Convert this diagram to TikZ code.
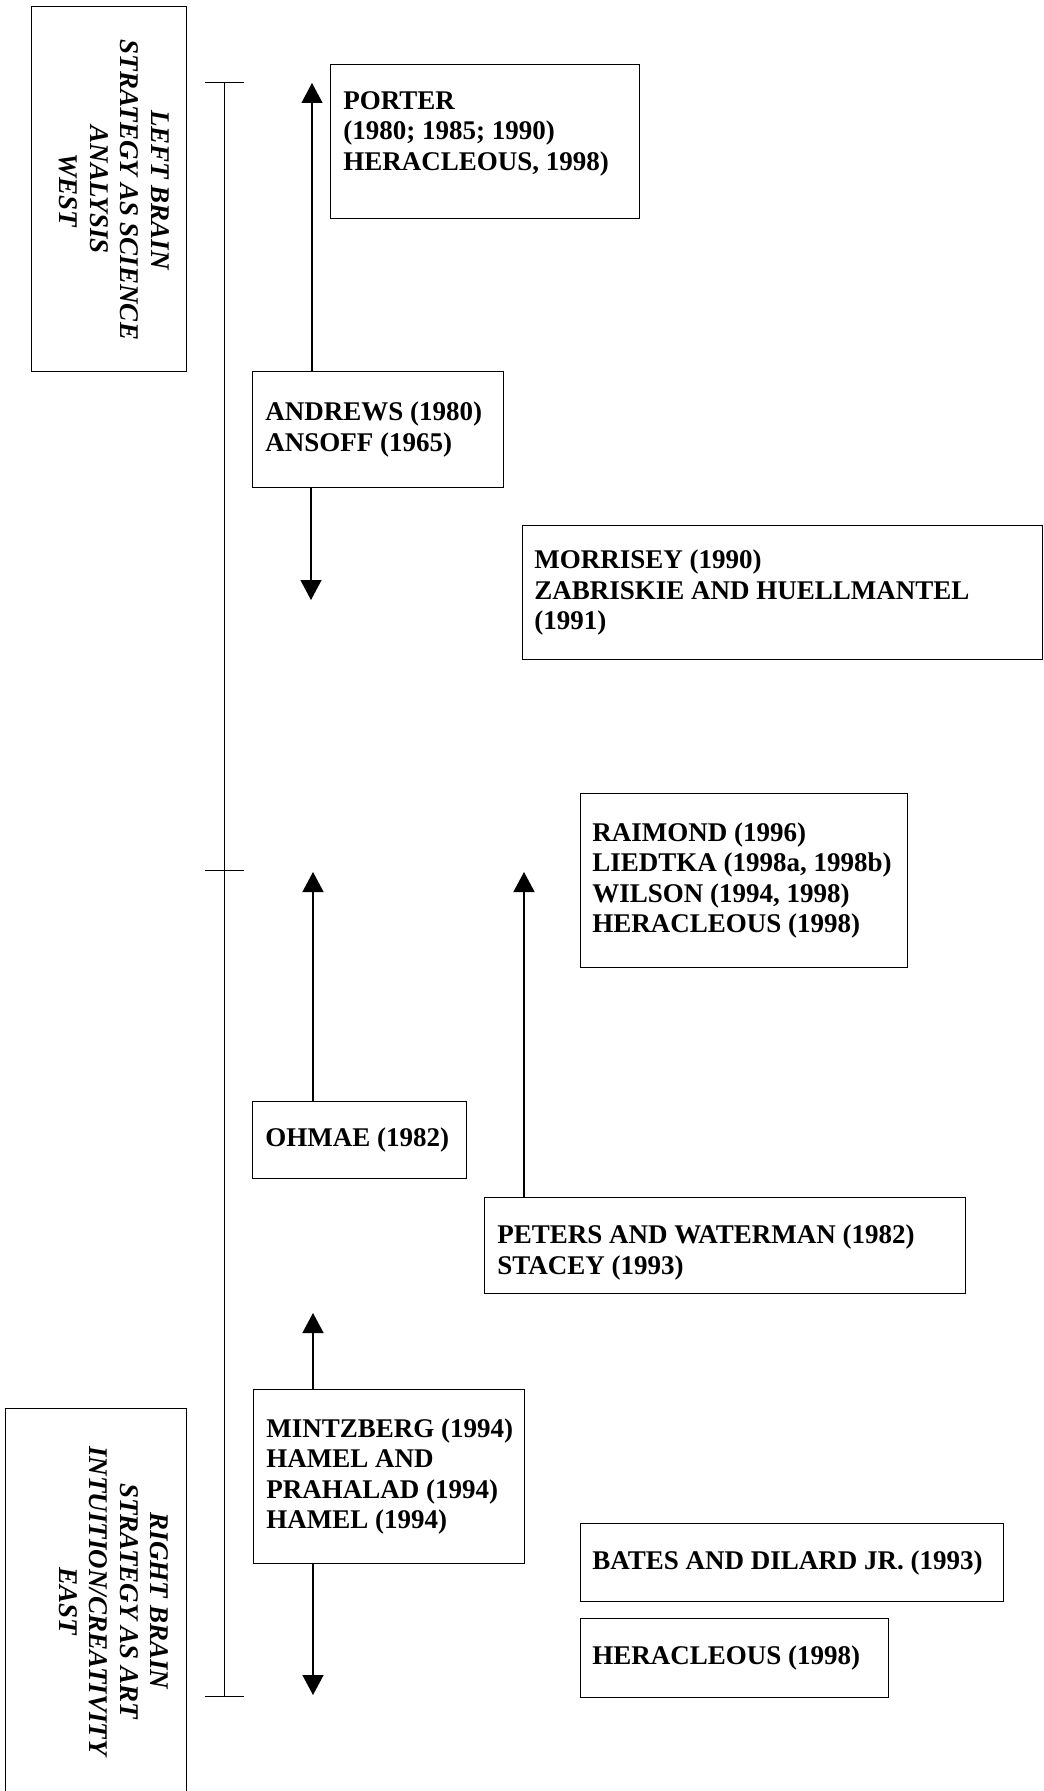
\documentclass[tikz,border=0pt]{standalone}
\usepackage{fontspec}
\setmainfont{Liberation Serif}
\usetikzlibrary{arrows.meta}

\newcommand\cardfont{\fontsize{13.5}{15.25}\selectfont\bfseries}

\tikzset{
  refbox/.style={draw, line width=0.7pt, anchor=north west, inner sep=0pt},
  reftext/.style={anchor=west, align=left, inner sep=0pt, font=\cardfont},
  sidelabel/.style={rotate=-90, align=center, inner sep=0pt, font=\cardfont\itshape},
  arr/.style={line width=0.7pt, -{Triangle[width=10.5pt,length=10pt]}}
}

\begin{document}
\begin{tikzpicture}[x=0.5pt, y=-0.5pt]
  % Page frame (one unit is one pixel of the original)
  \useasboundingbox (0,0) rectangle (1043,1791);

  % The two poles on the left
  \node[refbox, minimum width=77.5pt, minimum height=182.5pt] (westbox) at (31,6) {};
  \node[sidelabel] (west label) at (114,190)
    {LEFT BRAIN\\STRATEGY AS SCIENCE\\ANALYSIS\\WEST};
  \node[refbox, minimum width=90.5pt, minimum height=220pt] (eastbox) at (5,1408) {};
  \node[sidelabel] (east label) at (114,1601)
    {RIGHT BRAIN\\STRATEGY AS ART\\INTUITION/CREATIVITY\\EAST};

  % Timeline with its three ticks
  \coordinate (ttop) at (224,83);
  \coordinate (tmid) at (224,870);
  \coordinate (tbot) at (224,1696);
  \draw[line width=0.5pt] (ttop) -- (tbot);
  \foreach \t in {ttop,tmid,tbot}
    \draw[line width=0.5pt] ([xshift=-9.5pt]\t) -- ([xshift=10pt]\t);

  % Author boxes
  \node[refbox, minimum width=154.5pt, minimum height=77pt] (porter) at (330,64) {};
  \node[refbox, minimum width=125.5pt, minimum height=58pt] (andrews) at (252,371) {};
  \node[refbox, minimum width=260pt, minimum height=67pt] (morrisey) at (522,525) {};
  \node[refbox, minimum width=163.5pt, minimum height=87pt] (raimond) at (580,793) {};
  \node[refbox, minimum width=107pt, minimum height=38.5pt] (ohmae) at (252,1101) {};
  \node[refbox, minimum width=240.5pt, minimum height=48pt] (peters) at (484,1197) {};
  \node[refbox, minimum width=135.5pt, minimum height=87pt] (mintzberg) at (253,1389) {};
  \node[refbox, minimum width=211.5pt, minimum height=39pt] (bates) at (580,1523) {};
  \node[refbox, minimum width=154pt, minimum height=39.5pt] (heracleous) at (580,1618) {};

  % Their texts
  \node[reftext, yshift=4pt] (porter text) at ([xshift=6.5pt]porter.west)
    {PORTER\\(1980; 1985; 1990)\\HERACLEOUS, 1998)};
  \node[reftext] (andrews text) at ([xshift=6.5pt]andrews.west)
    {ANDREWS (1980)\\ANSOFF (1965)};
  \node[reftext] (morrisey text) at ([xshift=6pt]morrisey.west)
    {MORRISEY (1990)\\ZABRISKIE AND HUELLMANTEL\\(1991)};
  \node[reftext] (raimond text) at ([xshift=6pt]raimond.west)
    {RAIMOND (1996)\\LIEDTKA (1998a, 1998b)\\WILSON (1994, 1998)\\HERACLEOUS (1998)};
  \node[reftext] (ohmae text) at ([xshift=6.5pt]ohmae.west) {OHMAE (1982)};
  \node[reftext, yshift=-3.5pt] (peters text) at ([xshift=6.5pt]peters.west)
    {PETERS AND WATERMAN (1982)\\STACEY (1993)};
  \node[reftext] (mintzberg text) at ([xshift=6.5pt]mintzberg.west)
    {MINTZBERG (1994)\\HAMEL AND\\PRAHALAD (1994)\\HAMEL (1994)};
  \node[reftext] (bates text) at ([xshift=6pt]bates.west) {BATES AND DILARD JR. (1993)};
  \node[reftext] (heracleous text) at ([xshift=6pt]heracleous.west) {HERACLEOUS (1998)};

  % Arrow tips
  \coordinate (up1) at (312,83);
  \coordinate (dn1) at (311,600);
  \coordinate (up2) at (313,872);
  \coordinate (up3) at (524,872);
  \coordinate (up4) at (313,1313);
  \coordinate (dn2) at (313,1695);

  % Arrows out of the boxes
  \draw[arr] (andrews.north -| up1) -- (up1);
  \draw[arr] (andrews.south -| dn1) -- (dn1);
  \draw[arr] (ohmae.north -| up2) -- (up2);
  \draw[arr] (peters.north -| up3) -- (up3);
  \draw[arr] (mintzberg.north -| up4) -- (up4);
  \draw[arr] (mintzberg.south -| dn2) -- (dn2);

\end{tikzpicture}
\end{document}
